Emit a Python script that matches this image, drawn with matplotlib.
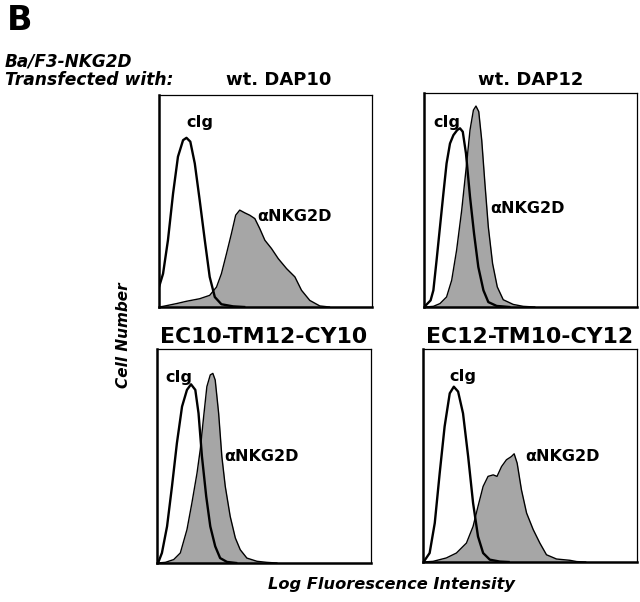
import matplotlib.pyplot as plt

# panel titles
titles = ['wt. DAP10', 'wt. DAP12', 'EC10-TM12-CY10', 'EC12-TM10-CY12']

# cIg (open) histograms, x = relative log intensity, y = relative cell number
cig_x = [
    [0.0, 0.019, 0.042, 0.066, 0.089, 0.113, 0.129, 0.147, 0.168, 0.191, 0.215, 0.238, 0.262, 0.293, 0.348, 0.40],
    [0.0, 0.0125, 0.031, 0.044, 0.059, 0.075, 0.091, 0.106, 0.122, 0.138, 0.156, 0.169, 0.182, 0.197, 0.216, 0.235, 0.255, 0.279, 0.302, 0.341, 0.40],
    [0.0, 0.008, 0.023, 0.047, 0.07, 0.093, 0.117, 0.14, 0.159, 0.179, 0.194, 0.21, 0.23, 0.249, 0.272, 0.295, 0.327, 0.37],
    [0.0, 0.008, 0.031, 0.055, 0.078, 0.101, 0.125, 0.144, 0.164, 0.187, 0.211, 0.234, 0.257, 0.281, 0.312, 0.359, 0.40],
]
cig_y = [
    [0.094, 0.157, 0.315, 0.535, 0.709, 0.787, 0.798, 0.78, 0.677, 0.504, 0.315, 0.142, 0.047, 0.013, 0.003, 0.0],
    [0.0, 0.012, 0.031, 0.078, 0.218, 0.374, 0.53, 0.671, 0.764, 0.803, 0.827, 0.835, 0.819, 0.718, 0.515, 0.343, 0.187, 0.078, 0.023, 0.005, 0.0],
    [0.0, 0.008, 0.047, 0.171, 0.358, 0.56, 0.731, 0.809, 0.835, 0.809, 0.70, 0.498, 0.311, 0.171, 0.078, 0.023, 0.005, 0.0],
    [0.0, 0.008, 0.042, 0.183, 0.417, 0.636, 0.792, 0.823, 0.80, 0.698, 0.495, 0.277, 0.12, 0.042, 0.011, 0.002, 0.0],
]

# anti-NKG2D (filled) histograms
nkg_x = [
    [0.0, 0.019, 0.082, 0.129, 0.191, 0.238, 0.27, 0.293, 0.317, 0.34, 0.36, 0.379, 0.403, 0.426, 0.45, 0.473, 0.497, 0.528, 0.56, 0.599, 0.638, 0.669, 0.708, 0.755, 0.80],
    [0.0, 0.044, 0.075, 0.106, 0.13, 0.153, 0.177, 0.197, 0.216, 0.232, 0.244, 0.257, 0.271, 0.286, 0.302, 0.322, 0.344, 0.372, 0.419, 0.466, 0.52],
    [0.0, 0.039, 0.078, 0.109, 0.14, 0.163, 0.187, 0.202, 0.218, 0.233, 0.249, 0.261, 0.272, 0.288, 0.303, 0.319, 0.342, 0.366, 0.389, 0.42, 0.467, 0.513, 0.56],
    [0.0, 0.047, 0.109, 0.156, 0.203, 0.234, 0.257, 0.281, 0.304, 0.328, 0.346, 0.367, 0.39, 0.413, 0.426, 0.44, 0.46, 0.484, 0.515, 0.546, 0.577, 0.624, 0.686, 0.718, 0.76],
]
nkg_y = [
    [0.0, 0.003, 0.016, 0.027, 0.039, 0.055, 0.094, 0.157, 0.252, 0.346, 0.433, 0.457, 0.444, 0.433, 0.417, 0.37, 0.315, 0.276, 0.228, 0.181, 0.142, 0.079, 0.031, 0.005, 0.0],
    [0.0, 0.003, 0.016, 0.047, 0.125, 0.265, 0.452, 0.64, 0.827, 0.92, 0.939, 0.913, 0.78, 0.577, 0.374, 0.203, 0.094, 0.034, 0.012, 0.003, 0.0],
    [0.0, 0.003, 0.016, 0.047, 0.156, 0.28, 0.42, 0.529, 0.684, 0.824, 0.879, 0.886, 0.855, 0.70, 0.498, 0.358, 0.218, 0.117, 0.062, 0.023, 0.008, 0.003, 0.0],
    [0.0, 0.003, 0.019, 0.042, 0.089, 0.167, 0.261, 0.355, 0.402, 0.409, 0.402, 0.448, 0.48, 0.495, 0.508, 0.464, 0.339, 0.23, 0.152, 0.089, 0.034, 0.014, 0.008, 0.002, 0.0],
]

# label anchor points (axes fraction)
cig_lbl = [(0.19, 0.87), (0.106, 0.86), (0.10, 0.865), (0.187, 0.87)]
nkg_lbl = [(0.46, 0.425), (0.31, 0.46), (0.314, 0.498), (0.48, 0.495)]

W, H = 640, 602
fig = plt.figure(figsize=(6.4, 6.02), dpi=100)
plt.rcParams['font.family'] = ['DejaVu Sans']

# axes boxes in pixels: left, top, right, bottom
boxes = [(159, 95, 372, 307), (424, 93, 637, 307), (157, 349, 371, 563), (423, 349, 637, 562)]
title_pos = [(279, 80), (531, 80), (264, 337), (530, 337)]
title_size = [13, 13, 15.8, 15.8]

for i in range(4):
    l, t, r, b = boxes[i]
    ax = fig.add_axes([l / W, 1 - b / H, (r - l) / W, (b - t) / H])
    ax.fill_between(nkg_x[i], nkg_y[i], 0, color='#a6a6a6', lw=0)
    ax.plot(nkg_x[i], nkg_y[i], color='black', lw=1.0)
    ax.plot(cig_x[i], cig_y[i], color='black', lw=1.7)
    ax.set_xlim(0, 1)
    ax.set_ylim(0, 1)
    ax.set_xticks([])
    ax.set_yticks([])
    for s in ['left', 'bottom']:
        ax.spines[s].set_linewidth(1.8)
    for s in ['top', 'right']:
        ax.spines[s].set_linewidth(0.9)
    ax.text(cig_lbl[i][0], cig_lbl[i][1], 'cIg', transform=ax.transAxes,
            ha='center', va='center', fontsize=11.5, fontweight='bold')
    ax.text(nkg_lbl[i][0], nkg_lbl[i][1], '\u03b1NKG2D', transform=ax.transAxes,
            ha='left', va='center', fontsize=11.5, fontweight='bold')
    tx, ty = title_pos[i]
    fig.text(tx / W, 1 - ty / H, titles[i], ha='center', va='center',
             fontsize=title_size[i], fontweight='bold')

fig.text(7 / W, 1 - 21 / H, 'B', ha='left', va='center', fontsize=24, fontweight='bold')
fig.text(5 / W, 1 - 62 / H, 'Ba/F3-NKG2D', ha='left', va='center',
         fontsize=12.2, fontweight='bold', style='italic')
fig.text(5 / W, 1 - 80 / H, 'Transfected with:', ha='left', va='center',
         fontsize=12.3, fontweight='bold', style='italic')
fig.text(124 / W, 1 - 335 / H, 'Cell Number', ha='center', va='center', rotation=90,
         fontsize=11, fontweight='bold', style='italic')
fig.text(391 / W, 1 - 585 / H, 'Log Fluorescence Intensity', ha='center', va='center',
         fontsize=11.7, fontweight='bold', style='italic')

fig.savefig('out.png', dpi=100)
